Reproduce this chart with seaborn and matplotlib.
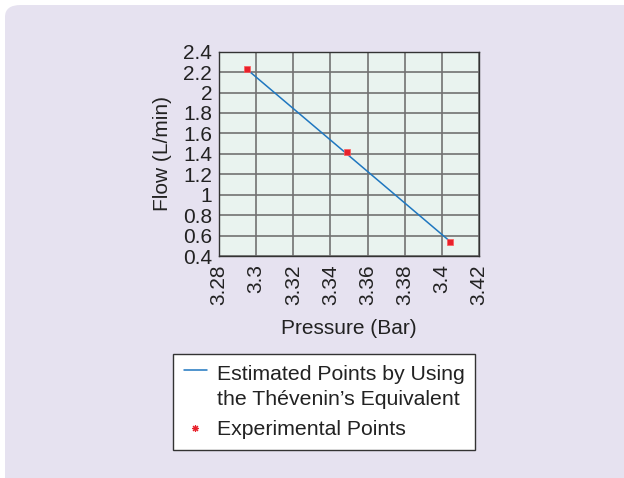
import matplotlib
matplotlib.use("Agg")
import matplotlib.pyplot as plt
import seaborn as sns
import pandas as pd
from matplotlib.patches import FancyBboxPatch
from matplotlib.lines import Line2D
from matplotlib.legend_handler import HandlerLine2D

pressure = [3.2952, 3.3488, 3.4046]
flow_experimental = [2.232, 1.418, 0.535]
flow_estimated = [2.225, 1.400, 0.540]
x_ticks = [3.28, 3.30, 3.32, 3.34, 3.36, 3.38, 3.40, 3.42]
x_tick_labels = ["3.28", "3.3", "3.32", "3.34", "3.36", "3.38", "3.4", "3.42"]
y_ticks = [0.4, 0.6, 0.8, 1.0, 1.2, 1.4, 1.6, 1.8, 2.0, 2.2, 2.4]
y_tick_labels = ["0.4", "0.6", "0.8", "1", "1.2", "1.4", "1.6", "1.8", "2", "2.2", "2.4"]
line_label = "Estimated Points by Using\nthe Thévenin’s Equivalent"
point_label = "Experimental Points"

sns.set_theme(style="white")
plt.rcParams["font.family"] = ["Liberation Sans", "DejaVu Sans"]

FS = 15
LEG_FS = 15.3


class TopAlignedLine(HandlerLine2D):
    def create_artists(self, legend, orig_handle, xdescent, ydescent,
                       width, height, fontsize, trans):
        artists = super().create_artists(legend, orig_handle, xdescent, ydescent,
                                         width, height, fontsize, trans)
        for a in artists:
            if isinstance(a, Line2D):
                a.set_ydata([y + 0.8 * fontsize for y in a.get_ydata()])
        return artists


df = pd.DataFrame({"pressure": pressure, "experimental": flow_experimental,
                   "estimated": flow_estimated})

fig = plt.figure(figsize=(6.24, 4.78), dpi=100)
fig.patch.set_facecolor("white")
bg = FancyBboxPatch((5 / 624, -0.1), 1.2, 1.1 - 5 / 478,
                    boxstyle="round,pad=0,rounding_size=0.025",
                    transform=fig.transFigure, facecolor="#e6e2f0",
                    edgecolor="none", zorder=-10)
fig.patches.append(bg)

ax = fig.add_axes([219 / 624, 1 - 256 / 478, 260 / 624, 204.3 / 478])
ax.set_facecolor("#e9f3ef")

sns.lineplot(data=df, x="pressure", y="estimated", ax=ax, color="#1f77c0",
             linewidth=1.1, legend=False)
sns.scatterplot(data=df, x="pressure", y="experimental", ax=ax, color="#e8212b",
                marker="s", s=18, edgecolor="#ff5a5a", linewidth=0.5, legend=False, zorder=5)

ax.set_xlim(3.28, 3.42)
ax.set_ylim(0.4, 2.4)
ax.set_xticks(x_ticks)
ax.set_xticklabels(x_tick_labels, rotation=90, fontsize=FS, color="#222222")
ax.set_yticks(y_ticks)
ax.set_yticklabels(y_tick_labels, fontsize=FS, color="#222222")
ax.tick_params(axis="x", length=0, pad=6)
ax.tick_params(axis="y", length=0, pad=5)
ax.grid(True, color="#727272", linewidth=1.2)
for s in ax.spines.values():
    s.set_color("#333333")
    s.set_linewidth(1.0)
ax.set_xlabel("Pressure (Bar)", fontsize=FS, color="#222222", labelpad=10)
ax.set_ylabel("Flow (L/min)", fontsize=FS, color="#222222", labelpad=8)

line_handle = Line2D([0], [0], color="#1f77c0", linewidth=1.1)
point_handle = Line2D([0], [0], color="#e8212b", marker=(8, 2, 0), linestyle="none",
                      markersize=5, markeredgewidth=0.8)
leg = fig.legend([line_handle, point_handle], [line_label, point_label],
                 loc="upper left", bbox_to_anchor=(173 / 624, 1 - 354 / 478),
                 fontsize=LEG_FS, frameon=True, fancybox=False, framealpha=1.0,
                 handlelength=1.1, handletextpad=0.45,
                 borderpad=0.5, labelspacing=0.55, borderaxespad=0,
                 handler_map={line_handle: TopAlignedLine()})
leg.get_frame().set_edgecolor("#333333")
leg.get_frame().set_linewidth(1.0)
leg.get_frame().set_facecolor("white")
for t in leg.get_texts():
    t.set_color("#222222")
    t.set_linespacing(1.4)

fig.savefig("out.png", dpi=100)
